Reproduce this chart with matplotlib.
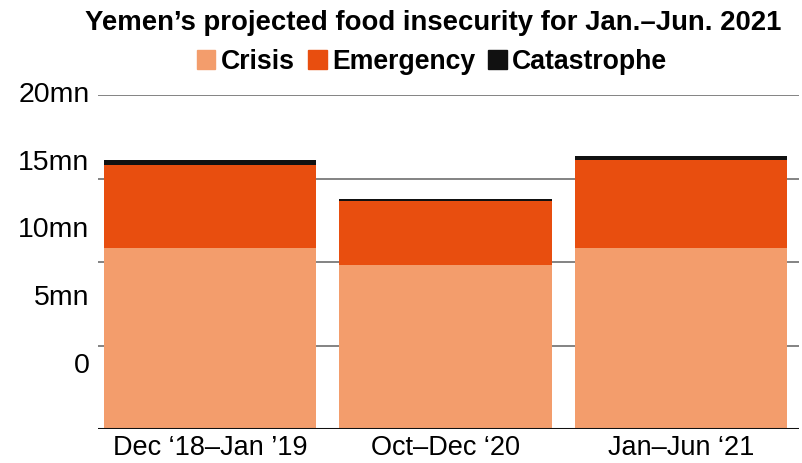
import numpy as np
import matplotlib
matplotlib.use('Agg')
import matplotlib.pyplot as plt
from matplotlib.patches import Patch
from matplotlib.transforms import blended_transform_factory

plt.rcParams['font.family'] = ['Liberation Sans', 'DejaVu Sans']

periods = ['Dec \u201818\u2013Jan \u201919', 'Oct\u2013Dec \u201820', 'Jan\u2013Jun \u201821']
crisis = [10.85, 9.8, 10.85]
emergency = [4.95, 3.85, 5.25]
catastrophe = [0.3, 0.12, 0.22]
y_ticks = [0, 5, 10, 15, 20]
y_labels = ['0', '5mn', '10mn', '15mn', '20mn']

CRISIS_COLOR = '#F39D6C'
EMERGENCY_COLOR = '#E84E0F'
CATASTROPHE_COLOR = '#111111'

fig = plt.figure(figsize=(8.03, 4.63), dpi=100)
ax = fig.add_axes([0.122, 0.0734, 0.873, 0.7214])

x = np.arange(len(periods))
crisis = np.array(crisis)
emergency = np.array(emergency)
catastrophe = np.array(catastrophe)

ax.bar(x, crisis, width=0.9, color=CRISIS_COLOR, zorder=3)
ax.bar(x, emergency, width=0.9, bottom=crisis, color=EMERGENCY_COLOR, zorder=3)
ax.bar(x, catastrophe, width=0.9, bottom=crisis + emergency,
       color=CATASTROPHE_COLOR, zorder=3)

ax.set_xlim(-0.475, 2.5)
ax.set_ylim(0, 20)

# grid lines drawn at the real values
for v in y_ticks[1:]:
    ax.axhline(v, color='#7a7a7a', lw=1.3, zorder=1)
ax.axhline(0, color='#111111', lw=2.2, zorder=4)

for s in ax.spines.values():
    s.set_visible(False)
ax.set_yticks([])
ax.set_xticks(x)
ax.set_xticklabels(periods, fontsize=19.5)
ax.tick_params(axis='x', length=0, pad=4)

# the original's labels drift upward from their grid lines
trans = blended_transform_factory(ax.transAxes, ax.transData)
for v, lab in zip(y_ticks, y_labels):
    ax.text(-0.012, 20 - (20 - v) * 0.81, lab, transform=trans,
            ha='right', va='center', fontsize=20.5)

fig.text(0.539, 0.950, 'Yemen\u2019s projected food insecurity for Jan.\u2013Jun. 2021',
         ha='center', va='center', fontsize=19.8, fontweight='bold')

handles = [Patch(color=CRISIS_COLOR), Patch(color=EMERGENCY_COLOR),
           Patch(color=CATASTROPHE_COLOR)]
fig.legend(handles, ['Crisis', 'Emergency', 'Catastrophe'], loc='center',
           bbox_to_anchor=(0.538, 0.867), ncol=3, frameon=False,
           handlelength=0.7, handleheight=0.7, handletextpad=0.2,
           columnspacing=0.5, prop={'size': 19.2, 'weight': 'bold'})

fig.savefig('out.png', dpi=100)
